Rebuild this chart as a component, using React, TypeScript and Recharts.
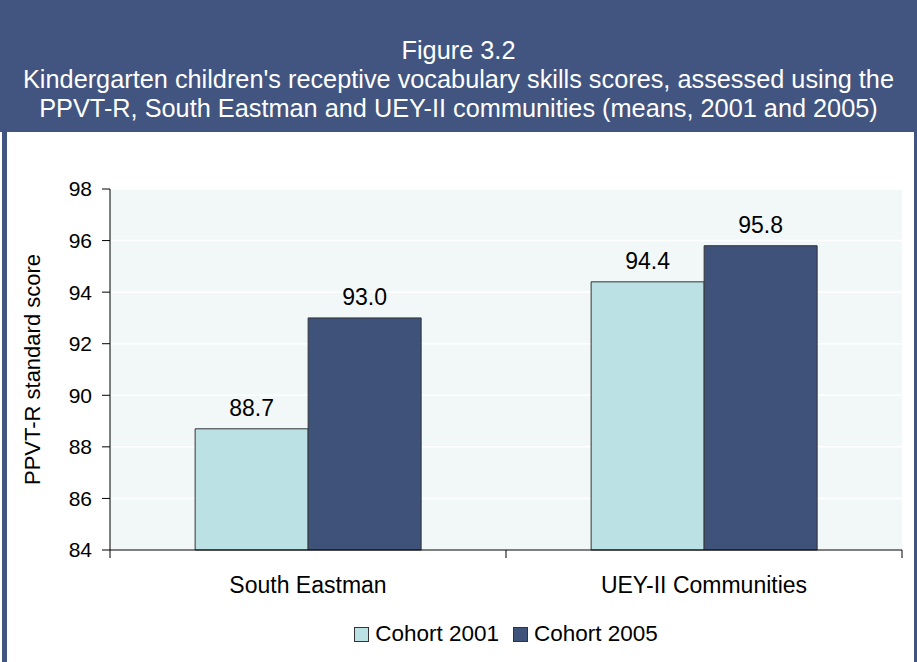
import React from 'react';
import { BarChart, Bar, XAxis, YAxis, CartesianGrid, Legend, LabelList } from 'recharts';

const categories = ['South Eastman', 'UEY-II Communities'];
const cohort2001 = [88.7, 94.4];
const cohort2005 = [93.0, 95.8];
const yTicks = [84, 86, 88, 90, 92, 94, 96, 98];
const seriesNames = ['Cohort 2001', 'Cohort 2005'];
const titleLines = [
  'Figure 3.2',
  "Kindergarten children's receptive vocabulary skills scores, assessed using the",
  'PPVT-R, South Eastman and UEY-II communities (means, 2001 and 2005)',
];
const yLabel = 'PPVT-R standard score';

const data = categories.map((c, i) => ({ name: c, c2001: cohort2001[i], c2005: cohort2005[i] }));

const FONT = '"Liberation Sans", Arial, sans-serif';
const HEADER = '#415580';
const LIGHT = '#BCE1E4';
const DARK = '#3F527A';

const XTick = (props: any) => {
  const { x, y, payload, index } = props;
  const half = payload && payload.offset ? payload.offset : 0;
  const last = index === categories.length - 1;
  return (
    <g>
      <line x1={x - half} x2={x - half} y1={y} y2={y + 8} stroke="#000" strokeWidth={1} />
      {last && <line x1={x + half} x2={x + half} y1={y} y2={y + 8} stroke="#000" strokeWidth={1} />}
      <text x={x} y={y + 35} textAnchor="middle" dominantBaseline="central" fontSize={23} fontFamily={FONT} fill="#000">
        {payload.value}
      </text>
    </g>
  );
};

const LegendContent = (props: any) => {
  const items = props.payload || [];
  return (
    <div style={{ display: 'flex', justifyContent: 'center', alignItems: 'center', height: 24, fontSize: 22.5, fontFamily: FONT, color: '#000' }}>
      {items.map((it: any, i: number) => (
        <span key={i} style={{ display: 'flex', alignItems: 'center', marginRight: i < items.length - 1 ? 14 : 0 }}>
          <span style={{ display: 'inline-block', width: 15, height: 15, background: it.color, border: '1px solid #333', boxSizing: 'border-box', marginRight: 6 }} />
          {it.value}
        </span>
      ))}
    </div>
  );
};

export default function App() {
  return (
    <div style={{ position: 'absolute', left: 0, top: 0, width: 917, height: 662, background: '#fff', overflow: 'hidden', fontFamily: FONT }}>
      <div style={{ position: 'absolute', left: 0, top: 0, width: 917, height: 132, background: HEADER, color: '#fff', fontSize: 25.3, lineHeight: '29px', textAlign: 'center', paddingTop: 36, boxSizing: 'border-box', whiteSpace: 'nowrap' }}>
        {titleLines.map((t, i) => (
          <div key={i}>{t}</div>
        ))}
      </div>
      <div style={{ position: 'absolute', left: 0, top: 132 }}>
        <BarChart width={917} height={530} data={data} margin={{ top: 57, right: 15, bottom: 28, left: 10 }} barCategoryGap="21.5%" barGap={0}>
          <CartesianGrid vertical={false} stroke="#fff" fill="#F2F8F8" strokeWidth={1.5} />
          <XAxis dataKey="name" tick={<XTick />} tickLine={false} tickSize={0} tickMargin={0} axisLine={{ stroke: '#000' }} height={60} interval={0} />
          <YAxis
            domain={[84, 98]}
            ticks={yTicks}
            interval={0}
            width={100}
            tickSize={8}
            tickMargin={10}
            axisLine={{ stroke: '#000' }}
            tickLine={{ stroke: '#000' }}
            tick={{ fill: '#000', fontSize: 21, fontFamily: FONT }}
            label={{ value: yLabel, angle: -90, position: 'center', dx: -28, fill: '#000', fontSize: 22, fontFamily: FONT }}
          />
          <Legend content={<LegendContent />} wrapperStyle={{ top: 490, left: 110, width: 792 }} />
          <Bar dataKey="c2001" name={seriesNames[0]} fill={LIGHT} stroke="#333" strokeWidth={1} isAnimationActive={false}>
            <LabelList dataKey="c2001" position="top" offset={13} formatter={(v: any) => Number(v).toFixed(1)} fill="#000" fontSize={23} fontFamily={FONT} />
          </Bar>
          <Bar dataKey="c2005" name={seriesNames[1]} fill={DARK} stroke="#333" strokeWidth={1} isAnimationActive={false}>
            <LabelList dataKey="c2005" position="top" offset={13} formatter={(v: any) => Number(v).toFixed(1)} fill="#000" fontSize={23} fontFamily={FONT} />
          </Bar>
        </BarChart>
      </div>
      <div style={{ position: 'absolute', left: 2, top: 0, width: 5, height: 662, background: HEADER }} />
      <div style={{ position: 'absolute', left: 914, top: 0, width: 3, height: 662, background: HEADER }} />
    </div>
  );
}
